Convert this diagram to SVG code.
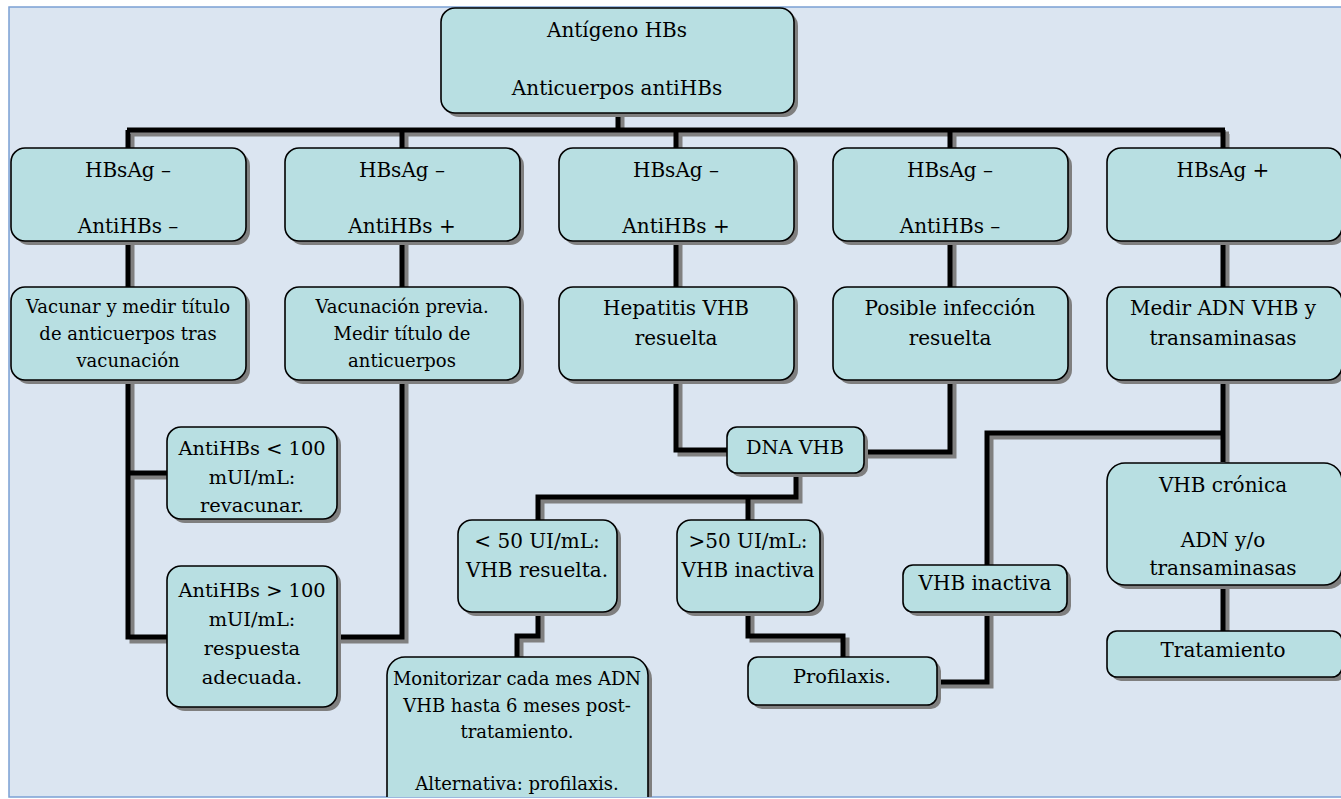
<svg xmlns="http://www.w3.org/2000/svg" xmlns:xlink="http://www.w3.org/1999/xlink" width="1341" height="799" viewBox="0 0 1341 799">
<style>
.bx{fill:#b8dfe2;stroke:#000;stroke-width:1.6}
.sh{fill:#7f7f7f}
.t{font-family:"DejaVu Serif","Liberation Serif",serif;font-size:20px;fill:#000;text-anchor:middle}
.s{font-size:18px}
.m{font-size:19.4px}
.ln{fill:none;stroke:#000;stroke-width:5;stroke-linejoin:miter}
.lns{fill:none;stroke:#808080;stroke-width:5;stroke-linejoin:miter}
</style>
<defs>
<clipPath id="clipbg"><rect x="9" y="7" width="1340" height="790"/></clipPath>
</defs>
<rect x="0" y="0" width="1341" height="799" fill="#ffffff"/>
<rect x="9" y="7" width="1340" height="790" fill="#dbe5f1" stroke="#7ba0d4" stroke-width="1.5"/>
<g id="connectors">
<defs>
<path id="c1" d="M618,113 V130 M127,130 H1225 M128,130 V148 M402,130 V148 M676,130 V148 M950,130 V148 M1223,130 V148"/>
<path id="c2" d="M128,241 V287 M402,241 V287 M676,241 V287 M950,241 V287 M1223,241 V287"/>
<path id="c3" d="M128,380 V637 H168 M128,473 H168 M402,380 V637 H337"/>
<path id="c4" d="M676,380 V450 H727 M950,380 V452 H864"/>
<path id="c5" d="M796,473 V497 H538 V520 M748,497 V520"/>
<path id="c6" d="M538,612 V636 H517 V657 M748,612 V636 H843 V657"/>
<path id="c7" d="M937,682 H987 V433 H1223 M1223,380 V462 M1223,585 V631"/>
</defs>
<g transform="translate(4,4)">
<use xlink:href="#c1" class="lns"/><use xlink:href="#c2" class="lns"/><use xlink:href="#c3" class="lns"/><use xlink:href="#c4" class="lns"/><use xlink:href="#c5" class="lns"/><use xlink:href="#c6" class="lns"/><use xlink:href="#c7" class="lns"/>
</g>
<use xlink:href="#c1" class="ln"/><use xlink:href="#c2" class="ln"/><use xlink:href="#c3" class="ln"/><use xlink:href="#c4" class="ln"/><use xlink:href="#c5" class="ln"/><use xlink:href="#c6" class="ln"/><use xlink:href="#c7" class="ln"/>
</g>
<g id="n-top"><rect class="sh" x="445" y="12" width="353" height="105" rx="14"/><rect class="bx" x="441" y="8" width="353" height="105" rx="14"/>
<text class="t" x="617" y="37">Antígeno HBs</text><text class="t" x="617" y="95">Anticuerpos antiHBs</text></g>

<g id="n-r1a"><rect class="sh" x="15" y="152" width="235" height="93" rx="14"/><rect class="bx" x="11" y="148" width="235" height="93" rx="14"/>
<text class="t" x="128" y="177">HBsAg –</text><text class="t" x="128" y="233">AntiHBs –</text></g>
<g id="n-r1b"><rect class="sh" x="289" y="152" width="235" height="93" rx="14"/><rect class="bx" x="285" y="148" width="235" height="93" rx="14"/>
<text class="t" x="402" y="177">HBsAg –</text><text class="t" x="402" y="233">AntiHBs +</text></g>
<g id="n-r1c"><rect class="sh" x="563" y="152" width="235" height="93" rx="14"/><rect class="bx" x="559" y="148" width="235" height="93" rx="14"/>
<text class="t" x="676" y="177">HBsAg –</text><text class="t" x="676" y="233">AntiHBs +</text></g>
<g id="n-r1d"><rect class="sh" x="837" y="152" width="235" height="93" rx="14"/><rect class="bx" x="833" y="148" width="235" height="93" rx="14"/>
<text class="t" x="950" y="177">HBsAg –</text><text class="t" x="950" y="233">AntiHBs –</text></g>
<g id="n-r1e"><rect class="sh" x="1111" y="152" width="235" height="93" rx="14"/><rect class="bx" x="1107" y="148" width="235" height="93" rx="14"/>
<text class="t" x="1223" y="177">HBsAg +</text></g>

<g id="n-r2a"><rect class="sh" x="15" y="291" width="235" height="93" rx="14"/><rect class="bx" x="11" y="287" width="235" height="93" rx="14"/>
<text class="t s" x="128" y="313">Vacunar y medir título</text><text class="t s" x="128" y="340">de anticuerpos tras</text><text class="t s" x="128" y="367">vacunación</text></g>
<g id="n-r2b"><rect class="sh" x="289" y="291" width="235" height="93" rx="14"/><rect class="bx" x="285" y="287" width="235" height="93" rx="14"/>
<text class="t s" x="402" y="313">Vacunación previa.</text><text class="t s" x="402" y="340">Medir título de</text><text class="t s" x="402" y="367">anticuerpos</text></g>
<g id="n-r2c"><rect class="sh" x="563" y="291" width="235" height="93" rx="14"/><rect class="bx" x="559" y="287" width="235" height="93" rx="14"/>
<text class="t" x="676" y="315">Hepatitis VHB</text><text class="t" x="676" y="345">resuelta</text></g>
<g id="n-r2d"><rect class="sh" x="837" y="291" width="235" height="93" rx="14"/><rect class="bx" x="833" y="287" width="235" height="93" rx="14"/>
<text class="t" x="950" y="315">Posible infección</text><text class="t" x="950" y="345">resuelta</text></g>
<g id="n-r2e"><rect class="sh" x="1111" y="291" width="235" height="93" rx="14"/><rect class="bx" x="1107" y="287" width="235" height="93" rx="14"/>
<text class="t" x="1223" y="315">Medir ADN VHB y</text><text class="t" x="1223" y="345">transaminasas</text></g>

<g id="n-lt100"><rect class="sh" x="171" y="431" width="170" height="92" rx="14"/><rect class="bx" x="167" y="427" width="170" height="92" rx="14"/>
<text class="t m" x="252" y="455">AntiHBs &lt; 100</text><text class="t m" x="252" y="484">mUI/mL:</text><text class="t m" x="252" y="512">revacunar.</text></g>
<g id="n-gt100"><rect class="sh" x="171" y="570" width="170" height="141" rx="14"/><rect class="bx" x="167" y="566" width="170" height="141" rx="14"/>
<text class="t m" x="252" y="597">AntiHBs &gt; 100</text><text class="t m" x="252" y="626">mUI/mL:</text><text class="t m" x="252" y="655">respuesta</text><text class="t m" x="252" y="684">adecuada.</text></g>

<g id="n-dna"><rect class="sh" x="731" y="431" width="137" height="46" rx="10"/><rect class="bx" x="727" y="427" width="137" height="46" rx="10"/>
<text class="t m" x="795" y="454">DNA VHB</text></g>

<g id="n-lt50"><rect class="sh" x="462" y="524" width="159" height="92" rx="14"/><rect class="bx" x="458" y="520" width="159" height="92" rx="14"/>
<text class="t" x="537" y="548">&lt; 50 UI/mL:</text><text class="t" x="537" y="577">VHB resuelta.</text></g>
<g id="n-gt50"><rect class="sh" x="681" y="524" width="143" height="92" rx="14"/><rect class="bx" x="677" y="520" width="143" height="92" rx="14"/>
<text class="t" x="748" y="548">&gt;50 UI/mL:</text><text class="t" x="748" y="577">VHB inactiva</text></g>

<g id="n-monit" clip-path="url(#clipbg)"><rect class="sh" x="391" y="661" width="261" height="160" rx="18"/><rect class="bx" x="387" y="657" width="261" height="160" rx="18"/>
<text class="t s" x="517" y="685">Monitorizar cada mes ADN</text><text class="t s" x="517" y="712">VHB hasta 6 meses post-</text><text class="t s" x="517" y="738">tratamiento.</text><text class="t s" x="517" y="790">Alternativa: profilaxis.</text></g>

<g id="n-profi"><rect class="sh" x="752" y="661" width="189" height="48" rx="10"/><rect class="bx" x="748" y="657" width="189" height="48" rx="10"/>
<text class="t m" x="842" y="683">Profilaxis.</text></g>

<g id="n-inact"><rect class="sh" x="907" y="569" width="164" height="47" rx="10"/><rect class="bx" x="903" y="565" width="164" height="47" rx="10"/>
<text class="t" x="985" y="590">VHB inactiva</text></g>

<g id="n-cron"><rect class="sh" x="1111" y="467" width="235" height="122" rx="18"/><rect class="bx" x="1107" y="463" width="235" height="122" rx="18"/>
<text class="t" x="1223" y="492">VHB crónica</text><text class="t" x="1223" y="547">ADN y/o</text><text class="t" x="1223" y="575">transaminasas</text></g>

<g id="n-trat"><rect class="sh" x="1111" y="635" width="235" height="46" rx="10"/><rect class="bx" x="1107" y="631" width="235" height="46" rx="10"/>
<text class="t" x="1223" y="657">Tratamiento</text></g>
</svg>
